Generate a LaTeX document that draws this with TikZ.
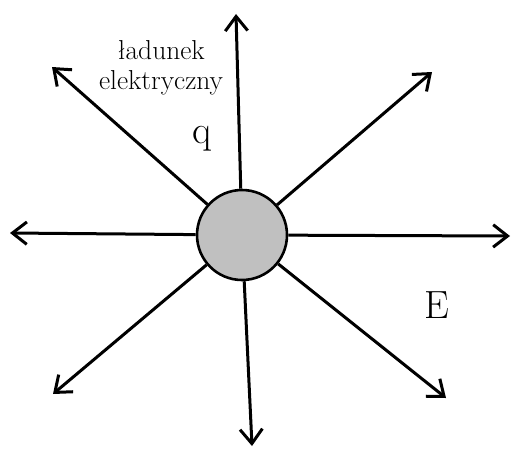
\documentclass[tikz,border=0pt]{standalone}
\usepackage{fontspec}
\usepackage{tikz}
\usetikzlibrary{arrows.meta}
\definecolor{chargegray}{RGB}{192,192,192}
\tikzset{
  charge/.style={circle, draw=black, line width=0.65mm, fill=chargegray,
                 minimum size=22.5mm, inner sep=0pt},
  fieldline/.style={-{Straight Barb[length=3.6mm, width=5.6mm, line width=0.75mm]},
                    line width=0.75mm, color=black},
  caption/.style={align=center, font=\fontsize{19.5}{21.5}\selectfont, inner sep=0pt},
  symbol/.style={font=\fontsize{28}{30}\selectfont, inner sep=0pt},
}

\begin{document}
\begin{tikzpicture}[x=0.25mm, y=-0.25mm]

  % ── Frame ────────────────────────────────────────────────────────────
  \useasboundingbox (0,0) rectangle (514,450);

  % ── Charge ───────────────────────────────────────────────────────────
  \node[charge] (q0) at (242,235) {};

  % ── Field line ends ──────────────────────────────────────────────────
  \coordinate (n)  at (236,14);
  \coordinate (ne) at (432,72);
  \coordinate (e)  at (510,236);
  \coordinate (se) at (446,398);
  \coordinate (s)  at (252,446);
  \coordinate (sw) at (53,394);
  \coordinate (w)  at (10,233);
  \coordinate (nw) at (52,67);

  \foreach \tip in {n,ne,e,se,s,sw,w,nw}
    \draw[fieldline] (q0) -- (\tip);

  % ── Labels ───────────────────────────────────────────────────────────
  \node[caption] (lbl) at (161,68) {ładunek\\elektryczny};
  \node[symbol] (qlbl) at (202,139) {q};
  \node[symbol] (elbl) at (437,305) {E};

\end{tikzpicture}
\end{document}
